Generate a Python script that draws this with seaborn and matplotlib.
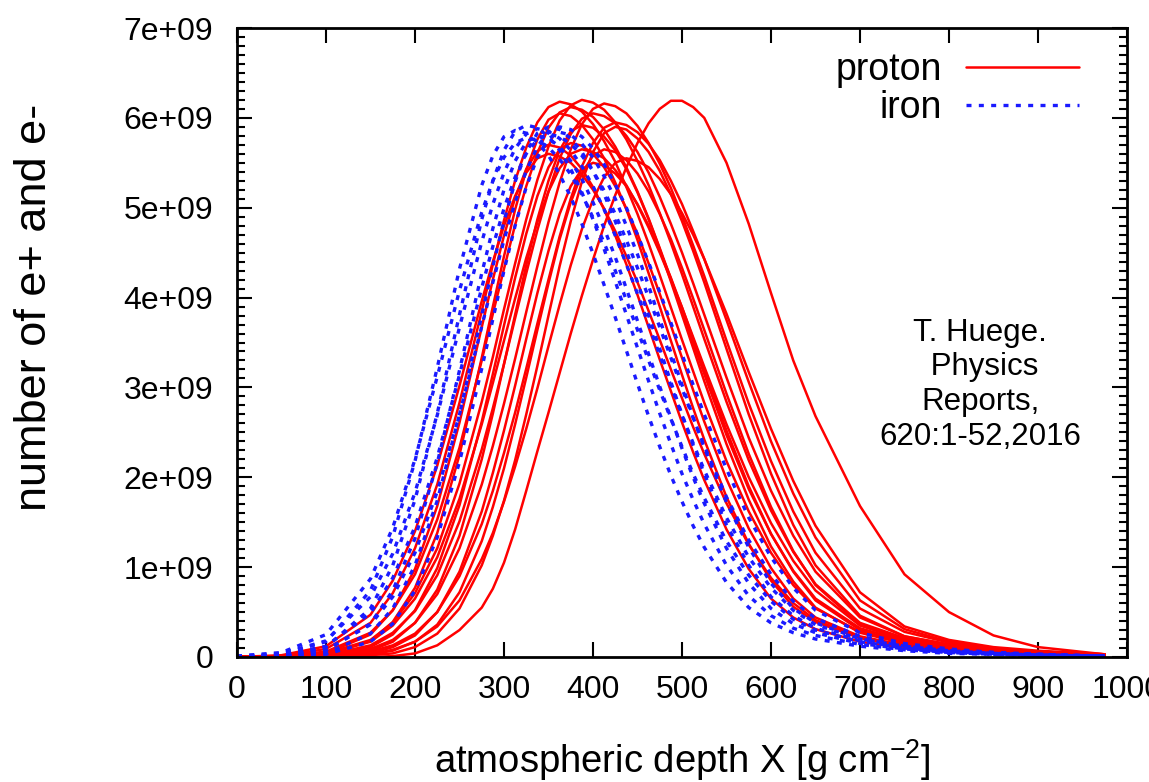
import matplotlib
matplotlib.use("Agg")
import matplotlib.pyplot as plt
from matplotlib.ticker import MultipleLocator, FuncFormatter
import pandas as pd
import seaborn as sns

# atmospheric depth grid [g cm^-2]
depth = [0, 50, 100, 150, 175, 200, 225, 250, 275, 287.5, 300, 312.5, 325, 337.5, 350, 362.5,
         375, 387.5, 400, 412.5, 425, 437.5, 450, 462.5, 475, 487.5, 500, 512.5, 525, 550,
         575, 600, 625, 650, 700, 750, 800, 850, 900, 975]

# number of e+ and e- (units of 1e9), proton-induced showers
proton_01 = [0.00, 0.02, 0.12, 0.47, 0.85, 1.40, 2.13, 3.02, 3.96, 4.40, 4.80, 5.13, 5.39, 5.55, 5.60, 5.57, 5.50, 5.37, 5.20, 4.99, 4.74, 4.46, 4.17, 3.85, 3.53, 3.20, 2.88, 2.56, 2.26, 1.71, 1.25, 0.88, 0.60, 0.41, 0.22, 0.13, 0.08, 0.05, 0.03, 0.01]
proton_02 = [0.00, 0.01, 0.04, 0.25, 0.52, 0.98, 1.68, 2.61, 3.67, 4.20, 4.69, 5.11, 5.43, 5.63, 5.70, 5.67, 5.58, 5.43, 5.23, 4.98, 4.69, 4.37, 4.03, 3.67, 3.31, 2.96, 2.61, 2.28, 1.97, 1.42, 0.98, 0.65, 0.44, 0.31, 0.17, 0.10, 0.06, 0.04, 0.02, 0.01]
proton_03 = [0.00, 0.01, 0.06, 0.27, 0.52, 0.92, 1.53, 2.33, 3.30, 3.82, 4.32, 4.81, 5.24, 5.61, 5.89, 6.06, 6.12, 6.09, 6.01, 5.87, 5.68, 5.45, 5.18, 4.88, 4.55, 4.21, 3.85, 3.50, 3.15, 2.47, 1.87, 1.37, 0.96, 0.65, 0.32, 0.18, 0.11, 0.06, 0.04, 0.02]
proton_04 = [0.00, 0.00, 0.02, 0.11, 0.25, 0.52, 0.99, 1.69, 2.62, 3.15, 3.69, 4.22, 4.71, 5.13, 5.45, 5.65, 5.72, 5.69, 5.60, 5.45, 5.24, 4.99, 4.71, 4.38, 4.04, 3.69, 3.33, 2.97, 2.62, 1.98, 1.43, 0.99, 0.65, 0.44, 0.23, 0.13, 0.08, 0.05, 0.03, 0.01]
proton_05 = [0.00, 0.01, 0.04, 0.19, 0.38, 0.71, 1.21, 1.93, 2.84, 3.34, 3.87, 4.38, 4.87, 5.31, 5.68, 5.97, 6.14, 6.20, 6.17, 6.09, 5.95, 5.76, 5.52, 5.25, 4.94, 4.61, 4.26, 3.90, 3.54, 2.84, 2.19, 1.63, 1.17, 0.81, 0.38, 0.21, 0.12, 0.07, 0.04, 0.02]
proton_06 = [0.00, 0.00, 0.01, 0.07, 0.17, 0.38, 0.75, 1.35, 2.20, 2.71, 3.26, 3.81, 4.36, 4.87, 5.30, 5.64, 5.85, 5.92, 5.89, 5.79, 5.64, 5.43, 5.17, 4.87, 4.54, 4.18, 3.81, 3.44, 3.07, 2.37, 1.75, 1.23, 0.84, 0.55, 0.27, 0.15, 0.09, 0.06, 0.03, 0.02]
proton_07 = [0.00, 0.00, 0.02, 0.13, 0.27, 0.51, 0.91, 1.51, 2.31, 2.77, 3.26, 3.77, 4.27, 4.75, 5.18, 5.55, 5.82, 5.99, 6.05, 6.02, 5.94, 5.80, 5.62, 5.39, 5.12, 4.82, 4.50, 4.16, 3.81, 3.11, 2.44, 1.85, 1.35, 0.95, 0.44, 0.23, 0.14, 0.08, 0.05, 0.02]
proton_08 = [0.00, 0.00, 0.00, 0.04, 0.11, 0.24, 0.50, 0.95, 1.62, 2.05, 2.52, 3.02, 3.54, 4.05, 4.52, 4.93, 5.24, 5.43, 5.50, 5.47, 5.38, 5.24, 5.04, 4.80, 4.52, 4.22, 3.89, 3.54, 3.20, 2.52, 1.90, 1.37, 0.95, 0.63, 0.30, 0.16, 0.10, 0.06, 0.04, 0.02]
proton_09 = [0.00, 0.00, 0.01, 0.09, 0.19, 0.38, 0.70, 1.21, 1.92, 2.35, 2.82, 3.32, 3.84, 4.35, 4.84, 5.28, 5.65, 5.93, 6.10, 6.16, 6.13, 6.05, 5.91, 5.72, 5.49, 5.22, 4.91, 4.58, 4.24, 3.52, 2.82, 2.18, 1.62, 1.16, 0.54, 0.28, 0.16, 0.09, 0.06, 0.03]
proton_10 = [0.00, 0.00, 0.00, 0.03, 0.07, 0.17, 0.36, 0.72, 1.29, 1.67, 2.10, 2.59, 3.11, 3.64, 4.16, 4.65, 5.06, 5.38, 5.58, 5.65, 5.62, 5.53, 5.38, 5.18, 4.93, 4.65, 4.33, 3.99, 3.64, 2.93, 2.26, 1.67, 1.18, 0.80, 0.36, 0.19, 0.11, 0.07, 0.04, 0.02]
proton_11 = [0.00, 0.00, 0.01, 0.06, 0.13, 0.26, 0.50, 0.90, 1.48, 1.85, 2.27, 2.72, 3.21, 3.71, 4.20, 4.68, 5.10, 5.46, 5.72, 5.89, 5.95, 5.92, 5.84, 5.71, 5.53, 5.30, 5.04, 4.74, 4.43, 3.75, 3.06, 2.40, 1.82, 1.33, 0.63, 0.31, 0.17, 0.10, 0.06, 0.03]
proton_12 = [0.00, 0.00, 0.01, 0.03, 0.08, 0.17, 0.34, 0.63, 1.09, 1.38, 1.73, 2.12, 2.54, 2.99, 3.46, 3.92, 4.36, 4.76, 5.09, 5.34, 5.50, 5.55, 5.52, 5.45, 5.32, 5.15, 4.94, 4.70, 4.43, 3.82, 3.17, 2.54, 1.96, 1.46, 0.72, 0.34, 0.19, 0.11, 0.07, 0.03]
proton_13 = [0.00, 0.00, 0.00, 0.00, 0.01, 0.04, 0.13, 0.30, 0.55, 0.76, 1.05, 1.42, 1.85, 2.29, 2.72, 3.16, 3.60, 4.02, 4.42, 4.80, 5.14, 5.45, 5.72, 5.94, 6.10, 6.19, 6.19, 6.12, 6.00, 5.50, 4.82, 4.05, 3.30, 2.68, 1.68, 0.92, 0.50, 0.24, 0.11, 0.03]
proton_14 = [0.00, 0.01, 0.09, 0.38, 0.71, 1.21, 1.92, 2.83, 3.85, 4.37, 4.86, 5.30, 5.67, 5.95, 6.12, 6.18, 6.15, 6.07, 5.93, 5.74, 5.51, 5.23, 4.93, 4.60, 4.25, 3.89, 3.53, 3.18, 2.83, 2.18, 1.62, 1.16, 0.80, 0.54, 0.28, 0.16, 0.09, 0.06, 0.03, 0.02]
proton_15 = [0.00, 0.00, 0.00, 0.02, 0.04, 0.11, 0.26, 0.54, 1.02, 1.35, 1.74, 2.19, 2.70, 3.24, 3.80, 4.35, 4.85, 5.29, 5.62, 5.83, 5.90, 5.87, 5.77, 5.62, 5.41, 5.15, 4.85, 4.52, 4.17, 3.43, 2.70, 2.04, 1.47, 1.02, 0.46, 0.23, 0.14, 0.08, 0.05, 0.02]
proton_16 = [0.00, 0.00, 0.03, 0.18, 0.39, 0.77, 1.38, 2.25, 3.33, 3.90, 4.46, 4.98, 5.42, 5.76, 5.98, 6.05, 6.02, 5.92, 5.76, 5.55, 5.28, 4.98, 4.64, 4.27, 3.90, 3.52, 3.14, 2.77, 2.42, 1.78, 1.26, 0.85, 0.56, 0.39, 0.21, 0.12, 0.07, 0.04, 0.03, 0.01]
proton_17 = [0.00, 0.01, 0.03, 0.17, 0.35, 0.65, 1.11, 1.76, 2.59, 3.05, 3.52, 3.99, 4.44, 4.84, 5.18, 5.44, 5.60, 5.65, 5.62, 5.55, 5.42, 5.25, 5.03, 4.78, 4.50, 4.20, 3.89, 3.56, 3.23, 2.59, 2.00, 1.49, 1.07, 0.74, 0.35, 0.19, 0.11, 0.07, 0.04, 0.02]

# number of e+ and e- (units of 1e9), iron-induced showers
iron_01 = [0.00, 0.03, 0.17, 0.74, 1.34, 2.18, 3.22, 4.32, 5.25, 5.58, 5.79, 5.86, 5.83, 5.73, 5.58, 5.37, 5.12, 4.82, 4.49, 4.14, 3.78, 3.41, 3.04, 2.68, 2.34, 2.02, 1.73, 1.46, 1.22, 0.83, 0.55, 0.38, 0.27, 0.20, 0.12, 0.07, 0.04, 0.03, 0.02, 0.01]
iron_02 = [0.00, 0.02, 0.11, 0.54, 1.02, 1.75, 2.71, 3.81, 4.87, 5.30, 5.64, 5.85, 5.92, 5.89, 5.79, 5.64, 5.43, 5.17, 4.87, 4.54, 4.18, 3.81, 3.44, 3.07, 2.71, 2.37, 2.04, 1.75, 1.48, 1.02, 0.68, 0.46, 0.32, 0.24, 0.14, 0.08, 0.05, 0.03, 0.02, 0.01]
iron_03 = [0.00, 0.01, 0.07, 0.37, 0.74, 1.32, 2.16, 3.19, 4.27, 4.77, 5.20, 5.52, 5.73, 5.80, 5.77, 5.68, 5.52, 5.32, 5.06, 4.77, 4.45, 4.10, 3.74, 3.37, 3.01, 2.66, 2.32, 2.00, 1.71, 1.21, 0.82, 0.54, 0.37, 0.27, 0.15, 0.09, 0.05, 0.03, 0.02, 0.01]
iron_04 = [0.00, 0.01, 0.04, 0.26, 0.54, 1.02, 1.74, 2.70, 3.80, 4.35, 4.85, 5.29, 5.62, 5.83, 5.90, 5.87, 5.77, 5.62, 5.41, 5.15, 4.85, 4.52, 4.17, 3.80, 3.43, 3.06, 2.70, 2.36, 2.04, 1.47, 1.02, 0.67, 0.46, 0.32, 0.18, 0.10, 0.06, 0.04, 0.02, 0.01]
iron_05 = [0.00, 0.00, 0.03, 0.17, 0.37, 0.74, 1.33, 2.17, 3.21, 3.76, 4.30, 4.80, 5.23, 5.56, 5.77, 5.84, 5.81, 5.71, 5.56, 5.35, 5.10, 4.80, 4.48, 4.13, 3.76, 3.39, 3.03, 2.67, 2.33, 1.72, 1.22, 0.82, 0.54, 0.38, 0.20, 0.12, 0.07, 0.04, 0.03, 0.01]
iron_06 = [0.01, 0.05, 0.25, 0.87, 1.44, 2.20, 3.12, 4.08, 4.95, 5.30, 5.56, 5.72, 5.78, 5.75, 5.67, 5.54, 5.37, 5.15, 4.89, 4.61, 4.30, 3.97, 3.64, 3.30, 2.97, 2.65, 2.34, 2.04, 1.77, 1.29, 0.91, 0.62, 0.42, 0.30, 0.17, 0.10, 0.06, 0.04, 0.02, 0.01]
iron_07 = [0.01, 0.04, 0.18, 0.67, 1.15, 1.83, 2.69, 3.67, 4.62, 5.04, 5.39, 5.66, 5.82, 5.88, 5.85, 5.77, 5.64, 5.46, 5.24, 4.98, 4.69, 4.37, 4.04, 3.70, 3.36, 3.02, 2.69, 2.38, 2.08, 1.55, 1.11, 0.77, 0.52, 0.36, 0.20, 0.12, 0.07, 0.04, 0.02, 0.01]
iron_08 = [0.00, 0.02, 0.12, 0.49, 0.88, 1.45, 2.22, 3.14, 4.11, 4.57, 4.99, 5.34, 5.60, 5.76, 5.82, 5.79, 5.71, 5.58, 5.41, 5.19, 4.93, 4.64, 4.33, 4.00, 3.67, 3.33, 2.99, 2.66, 2.35, 1.78, 1.30, 0.92, 0.62, 0.43, 0.23, 0.13, 0.08, 0.05, 0.03, 0.01]
iron_09 = [0.00, 0.01, 0.08, 0.36, 0.67, 1.16, 1.84, 2.70, 3.68, 4.17, 4.64, 5.06, 5.41, 5.68, 5.84, 5.90, 5.87, 5.79, 5.66, 5.48, 5.26, 5.00, 4.70, 4.39, 4.06, 3.72, 3.37, 3.03, 2.70, 2.09, 1.55, 1.11, 0.77, 0.52, 0.27, 0.15, 0.09, 0.05, 0.03, 0.01]

proton_showers = [proton_01, proton_02, proton_03, proton_04, proton_05, proton_06, proton_07,
                  proton_08, proton_09, proton_10, proton_11, proton_12, proton_13, proton_14,
                  proton_15, proton_16, proton_17]
iron_showers = [iron_01, iron_02, iron_03, iron_04, iron_05, iron_06, iron_07, iron_08, iron_09]

legend_labels = ["proton", "iron"]
x_label = "atmospheric depth X [g cm$^{-2}$]"
y_label = "number of e+ and e-"
note = "T. Huege.\n Physics\nReports,\n620:1-52,2016"

records = []
for kind, showers in (("proton", proton_showers), ("iron", iron_showers)):
    for i, prof in enumerate(showers):
        for x, n in zip(depth, prof):
            records.append({"X": x, "N": n * 1e9, "primary": kind, "shower": f"{kind}_{i}"})
df = pd.DataFrame(records)

sns.set_style("ticks")
plt.rcParams["font.family"] = ["Liberation Sans", "DejaVu Sans"]
plt.rcParams["mathtext.default"] = "regular"
plt.rcParams["text.color"] = "black"
plt.rcParams["axes.labelcolor"] = "black"

W, H = 1149, 782
fig = plt.figure(figsize=(W / 100, H / 100), dpi=100)
ax = fig.add_axes([237 / W, 1 - 657 / H, 890 / W, 629 / H])

n0 = len(ax.lines)
sns.lineplot(data=df[df.primary == "proton"], x="X", y="N", units="shower", estimator=None,
             sort=False, color="#ff0000", lw=1.8, legend=False, ax=ax)
n1 = len(ax.lines)
sns.lineplot(data=df[df.primary == "iron"], x="X", y="N", units="shower", estimator=None,
             sort=False, color="#1a1aff", lw=2.4, legend=False, ax=ax)
for ln in ax.lines[n1:]:
    ln.set_dashes((1.5, 2.2))

ax.set_xlim(0, 1000)
ax.set_ylim(0, 7e9)
ax.xaxis.set_major_locator(MultipleLocator(100))
ax.yaxis.set_major_locator(MultipleLocator(1e9))
ax.yaxis.set_minor_locator(MultipleLocator(1e8))
ax.yaxis.set_major_formatter(FuncFormatter(lambda v, p: "0" if abs(v) < 1 else f"{v:.0e}"))

ax.tick_params(axis="both", which="both", direction="in", top=True, right=True,
               width=1.5, color="black", labelcolor="black")
ax.tick_params(which="major", length=11)
ax.tick_params(which="minor", length=5.5)
ax.tick_params(axis="x", which="minor", top=False, bottom=False)
ax.tick_params(axis="y", labelsize=23, pad=17)
ax.tick_params(axis="x", labelsize=23, pad=13)
for sp in ax.spines.values():
    sp.set_linewidth(2.0)
    sp.set_color("black")

ax.set_xlabel(x_label, fontsize=27.5, color="black")
ax.set_ylabel(y_label, fontsize=32.5, color="black")
ax.xaxis.set_label_coords(0.5, -0.127)
ax.yaxis.set_label_coords(-0.205, 0.556)

ax.legend([ax.lines[n0], ax.lines[n1]], legend_labels, markerfirst=False, frameon=False,
          loc="upper right", bbox_to_anchor=(0.946, 0.962), borderaxespad=0, borderpad=0,
          handlelength=3.0, handletextpad=0.65, labelspacing=0.05, fontsize=27)

ax.text(835, 3.03e9, note, ha="center", va="center", fontsize=22.5, linespacing=1.2,
        multialignment="center", color="black")

fig.savefig("out.png", dpi=100)
